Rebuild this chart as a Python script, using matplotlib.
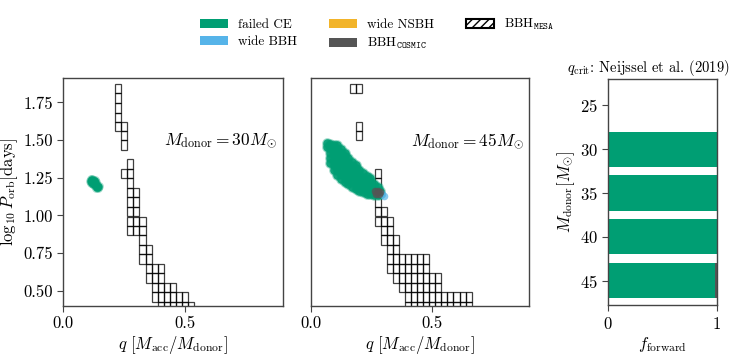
import numpy as np
import matplotlib
matplotlib.use('Agg')
import matplotlib.pyplot as plt
from matplotlib.patches import Patch

plt.rcParams['font.family'] = 'serif'
plt.rcParams['font.serif'] = ['cmr10']
plt.rcParams['mathtext.fontset'] = 'cm'
plt.rcParams['axes.formatter.use_mathtext'] = True

c_fail = '#009E73'
c_bbh = '#56B4E9'
c_nsbh = '#F2B42A'
c_cosmic = '#555555'

# MESA grid rows (log10 P centres) and cell size
logp_grid = [0.396, 0.458, 0.521, 0.584, 0.646, 0.709, 0.773, 0.836, 0.899, 0.961,
             1.024, 1.088, 1.151, 1.215, 1.279, 1.340, 1.403, 1.466, 1.529, 1.590,
             1.651, 1.713, 1.778, 1.843]
dq = 0.025
dlogp = 0.0627

# BBH_MESA cells: (q, first row, last row)
mesa_30 = [(0.225, 19, 23), (0.25, 17, 19), (0.25, 14, 14), (0.275, 8, 15),
           (0.3, 8, 12), (0.325, 5, 9), (0.35, 3, 6), (0.375, 1, 4), (0.4, 0, 4),
           (0.425, 0, 2), (0.45, 0, 2), (0.475, 0, 1), (0.5, 0, 1), (0.525, 0, 0)]
mesa_45 = [(0.175, 23, 23), (0.2, 23, 23), (0.2, 18, 19), (0.275, 9, 14),
           (0.3, 7, 10), (0.325, 4, 9), (0.35, 3, 7), (0.375, 2, 5), (0.4, 0, 5),
           (0.425, 0, 5), (0.45, 0, 5), (0.475, 0, 5), (0.5, 0, 3), (0.525, 0, 3),
           (0.55, 0, 1), (0.575, 0, 1), (0.6, 0, 1), (0.625, 0, 1), (0.65, 0, 1)]

# COSMIC failed CE points, 30 Msun
fail30_q = [0.112, 0.118, 0.124, 0.115, 0.121, 0.127, 0.133, 0.119, 0.125, 0.131,
            0.137, 0.128, 0.134, 0.140, 0.136, 0.142, 0.109, 0.112, 0.146, 0.144,
            0.130, 0.122]
fail30_logp = [1.240, 1.244, 1.236, 1.228, 1.231, 1.225, 1.219, 1.217, 1.212, 1.207,
               1.203, 1.199, 1.195, 1.190, 1.183, 1.186, 1.226, 1.212, 1.196, 1.180,
               1.238, 1.205]

# COSMIC failed CE points, 45 Msun (columns in q)
fail45_cols = [0.065, 0.080, 0.095, 0.110, 0.125, 0.140, 0.155, 0.170, 0.185,
               0.200, 0.215, 0.230, 0.245, 0.260, 0.275, 0.285]
fail45_logp = [
    [1.455, 1.480],
    [1.345, 1.380, 1.415, 1.450, 1.475],
    [1.300, 1.335, 1.370, 1.405, 1.440, 1.470],
    [1.265, 1.300, 1.335, 1.370, 1.405, 1.440, 1.470],
    [1.240, 1.275, 1.310, 1.345, 1.380, 1.415, 1.440],
    [1.220, 1.255, 1.290, 1.325, 1.360, 1.395, 1.415],
    [1.205, 1.240, 1.275, 1.310, 1.345, 1.380],
    [1.190, 1.225, 1.260, 1.295, 1.330, 1.355],
    [1.175, 1.210, 1.245, 1.280, 1.315, 1.335],
    [1.165, 1.195, 1.230, 1.265, 1.300],
    [1.155, 1.185, 1.215, 1.250, 1.280],
    [1.145, 1.175, 1.205, 1.235, 1.260],
    [1.140, 1.165, 1.195, 1.225, 1.245],
    [1.135, 1.160, 1.185, 1.210],
    [1.135, 1.160, 1.185],
    [1.140, 1.165],
]
cosmic45_q = [0.265, 0.275, 0.285, 0.270, 0.280]
cosmic45_logp = [1.160, 1.165, 1.155, 1.140, 1.145]
bbh45_q = [0.295, 0.300]
bbh45_logp = [1.140, 1.130]

# forward fractions per donor mass
masses = [25, 30, 35, 40, 45]
frac_fail = [0.0, 1.0, 1.0, 1.0, 0.985]
frac_bbh = [0.0, 0.0, 0.0, 0.0, 0.003]
frac_nsbh = [0.0, 0.0, 0.0, 0.0, 0.0]
frac_cosmic = [0.0, 0.0, 0.0, 0.0, 0.012]

fig = plt.figure(figsize=(7.47, 3.56), dpi=100)
ax1 = fig.add_axes([0.0847, 0.1413, 0.2937, 0.6387])
ax2 = fig.add_axes([0.416, 0.1413, 0.2926, 0.6387], sharey=ax1)
ax3 = fig.add_axes([0.8143, 0.1424, 0.1451, 0.6348])


def draw_mesa(ax, cells):
    for q, lo, hi in cells:
        for r in range(lo, hi + 1):
            ax.bar(q, dlogp, bottom=logp_grid[r] - dlogp / 2, width=dq,
                   fill=False, edgecolor='k', linewidth=0.9, alpha=0.75, zorder=2)


draw_mesa(ax1, mesa_30)
ax1.scatter(fail30_q, fail30_logp, s=40, color=c_fail, alpha=0.35, lw=0, zorder=3)
ax1.scatter(fail30_q, fail30_logp, s=20, color=c_fail, alpha=0.9, lw=0, zorder=3)

draw_mesa(ax2, mesa_45)
fq = [q for q, col in zip(fail45_cols, fail45_logp) for _ in col]
fl = [v for col in fail45_logp for v in col]
ax2.scatter(fq, fl, s=60, color=c_fail, alpha=0.35, lw=0, zorder=3)
ax2.scatter(fq, fl, s=38, color=c_fail, alpha=0.9, lw=0, zorder=3)
ax2.scatter(bbh45_q, bbh45_logp, s=30, color=c_bbh, alpha=0.7, lw=0, zorder=3)
ax2.scatter(cosmic45_q, cosmic45_logp, s=30, color=c_cosmic, alpha=0.8, lw=0, zorder=4)

for ax, m in [(ax1, 30), (ax2, 45)]:
    ax.set_xlim(0, 0.9)
    ax.set_ylim(0.4, 1.91)
    ax.set_xticks([0, 0.5])
    ax.set_xticklabels(['0.0', '0.5'])
    ax.set_xlabel(r'$q\ [M_{\rm acc}/M_{\rm donor}]$', fontsize=12, labelpad=2)
    ax.text(0.975, 0.725, r'$M_{\rm donor} = %d M_{\odot}$' % m, transform=ax.transAxes,
            ha='right', va='center', fontsize=12.5)
ax1.set_yticks([0.5, 0.75, 1.0, 1.25, 1.5, 1.75])
ax1.set_yticklabels(['0.50', '0.75', '1.00', '1.25', '1.50', '1.75'])
ax1.set_ylabel(r'$\log_{10} P_{\rm orb} [{\rm days}]$', fontsize=12, labelpad=2)
ax2.tick_params(axis='y', left=False, labelleft=False)

left = np.zeros(len(masses))
for vals, col in [(frac_fail, c_fail), (frac_bbh, c_bbh), (frac_nsbh, c_nsbh),
                  (frac_cosmic, c_cosmic)]:
    ax3.barh(masses, vals, left=left, height=4, color=col, zorder=2)
    left = left + np.array(vals)
ax3.set_xlim(0, 1)
ax3.set_ylim(47.8, 22.05)
ax3.set_xticks([0, 1])
ax3.set_yticks([25, 30, 35, 40, 45])
ax3.set_xlabel(r'$f_{\rm forward}$', fontsize=12, labelpad=2)
ax3.set_ylabel(r'$M_{\rm donor} [M_{\odot}]$', fontsize=12, labelpad=2)
ax3.set_title(r'$q_{\rm crit}$: Neijssel et al. (2019)', fontsize=10.5, x=0.37, pad=5)

for ax in (ax1, ax2, ax3):
    for sp in ax.spines.values():
        sp.set_color('#444444')
        sp.set_linewidth(1.0)
        sp.set_zorder(5)
    ax.tick_params(labelsize=12, color='#444444', length=4)

handles = [Patch(facecolor=c_fail, label='failed CE'),
           Patch(facecolor=c_bbh, label='wide BBH'),
           Patch(facecolor=c_nsbh, label='wide NSBH'),
           Patch(facecolor=c_cosmic, label=r'BBH$_{\mathtt{COSMIC}}$'),
           Patch(facecolor='white', edgecolor='k', hatch='////', linewidth=1.5,
                 label=r'BBH$_{\mathtt{MESA}}$')]
fig.legend(handles=handles, loc='upper center', bbox_to_anchor=(0.505, 0.985), ncol=3,
           frameon=False, fontsize=9.5, columnspacing=2.4, handlelength=2.1,
           labelspacing=0.35)

fig.savefig('out.png', dpi=100)
